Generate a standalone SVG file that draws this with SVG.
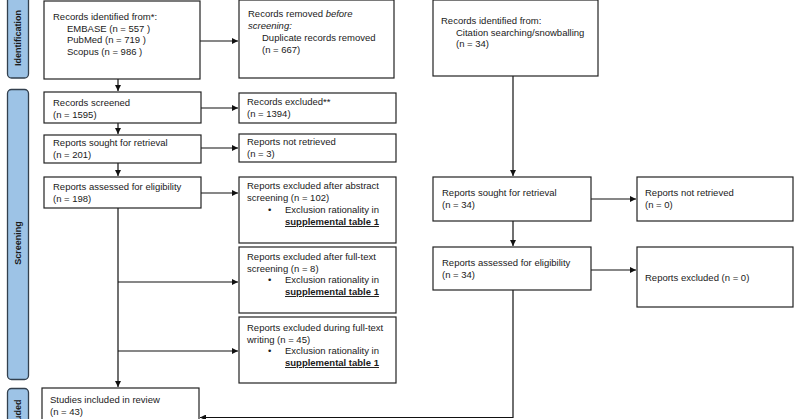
<svg xmlns="http://www.w3.org/2000/svg" width="800" height="419" viewBox="0 0 800 419">
<defs>
<marker id="ah" viewBox="0 0 10 10" refX="10" refY="5" markerWidth="6" markerHeight="6" markerUnits="userSpaceOnUse" orient="auto">
<path d="M0,0 L10,5 L0,10 z" fill="#111"/>
</marker>
<style>
.box{fill:#fff;stroke:#222;stroke-width:1.2}
.bar{fill:#9dc3e6;stroke:#33404e;stroke-width:1.3}
.t{font-family:"Liberation Sans",Arial,sans-serif;font-size:9.5px;fill:#1a1a1a}
.bt{font-family:"Liberation Sans",Arial,sans-serif;font-size:9px;font-weight:bold;fill:#1a1a1a}
.u{font-weight:bold;text-decoration:underline}
.c{fill:none;stroke:#111;stroke-width:1.2}
</style>
</defs>
<rect width="800" height="419" fill="#fff"/>

<g id="bar-identification">
<rect class="bar" x="7.5" y="-5" width="21" height="83" rx="4"/>
<text class="bt" transform="translate(21,38) rotate(-90)" text-anchor="middle">Identification</text>
</g>
<g id="bar-screening">
<rect class="bar" x="7.5" y="89.5" width="21" height="290" rx="4"/>
<text class="bt" transform="translate(21,243) rotate(-90)" text-anchor="middle">Screening</text>
</g>
<g id="bar-included">
<rect class="bar" x="7.5" y="388.5" width="21" height="60" rx="4"/>
<text class="bt" transform="translate(21,418) rotate(-90)" text-anchor="middle">Included</text>
</g>

<g id="connectors">
<path class="c" d="M118,79 V91" marker-end="url(#ah)"/>
<path class="c" d="M200,41 H238" marker-end="url(#ah)"/>
<path class="c" d="M118,123 V134" marker-end="url(#ah)"/>
<path class="c" d="M201,108 H238" marker-end="url(#ah)"/>
<path class="c" d="M118,163 V176" marker-end="url(#ah)"/>
<path class="c" d="M201,148 H238" marker-end="url(#ah)"/>
<path class="c" d="M201,193 H238" marker-end="url(#ah)"/>
<path class="c" d="M118,208 V387" marker-end="url(#ah)"/>
<path class="c" d="M118,282 H238" marker-end="url(#ah)"/>
<path class="c" d="M118,351 H238" marker-end="url(#ah)"/>
<path class="c" d="M513,76 V176" marker-end="url(#ah)"/>
<path class="c" d="M591,199 H636" marker-end="url(#ah)"/>
<path class="c" d="M513,221 V246" marker-end="url(#ah)"/>
<path class="c" d="M591,270 H636" marker-end="url(#ah)"/>
<path class="c" d="M513,290 V417.5 H200" marker-end="url(#ah)"/>
</g>

<g id="n-identified-db">
<rect class="box" x="44" y="1" width="156" height="78"/>
<text class="t" x="53" y="20">Records identified from*:</text>
<text class="t" x="67" y="31.5">EMBASE (n = 557 )</text>
<text class="t" x="67" y="43">PubMed (n = 719 )</text>
<text class="t" x="67" y="54.5">Scopus (n = 986 )</text>
</g>
<g id="n-removed">
<rect class="box" x="239" y="0" width="155" height="78"/>
<text class="t" x="248" y="17">Records removed <tspan font-style="italic">before</tspan></text>
<text class="t" x="248" y="29" font-style="italic">screening:</text>
<text class="t" x="262" y="41">Duplicate records removed</text>
<text class="t" x="262" y="53">(n = 667)</text>
</g>
<g id="n-identified-cit">
<rect class="box" x="433" y="0" width="165" height="76"/>
<text class="t" x="441" y="24">Records identified from:</text>
<text class="t" x="456" y="35.5">Citation searching/snowballing</text>
<text class="t" x="456" y="47">(n = 34)</text>
</g>

<g id="n-screened">
<rect class="box" x="44" y="92" width="157" height="31"/>
<text class="t" x="53" y="106">Records screened</text>
<text class="t" x="53" y="117.5">(n = 1595)</text>
</g>
<g id="n-excluded">
<rect class="box" x="239" y="93" width="157" height="30"/>
<text class="t" x="247" y="105">Records excluded**</text>
<text class="t" x="247" y="116.5">(n = 1394)</text>
</g>
<g id="n-sought">
<rect class="box" x="44" y="135" width="157" height="28"/>
<text class="t" x="53" y="146">Reports sought for retrieval</text>
<text class="t" x="53" y="157.5">(n = 201)</text>
</g>
<g id="n-notretrieved">
<rect class="box" x="239" y="134" width="157" height="28"/>
<text class="t" x="247" y="145">Reports not retrieved</text>
<text class="t" x="247" y="156.5">(n = 3)</text>
</g>
<g id="n-assessed">
<rect class="box" x="44" y="177" width="157" height="31"/>
<text class="t" x="53" y="190">Reports assessed for eligibility</text>
<text class="t" x="53" y="201.5">(n = 198)</text>
</g>
<g id="n-excl-abstract">
<rect class="box" x="239" y="177" width="157" height="66"/>
<text class="t" x="247" y="189">Reports excluded after abstract</text>
<text class="t" x="247" y="201">screening (n = 102)</text>
<text class="t" x="268" y="213">•</text>
<text class="t" x="285" y="213">Exclusion rationality in</text>
<text class="t u" x="285" y="225">supplemental table 1</text>
</g>
<g id="n-excl-fulltext">
<rect class="box" x="239" y="247" width="157" height="66"/>
<text class="t" x="247" y="260">Reports excluded after full-text</text>
<text class="t" x="247" y="272">screening (n = 8)</text>
<text class="t" x="268" y="283">•</text>
<text class="t" x="285" y="283">Exclusion rationality in</text>
<text class="t u" x="285" y="295">supplemental table 1</text>
</g>
<g id="n-excl-writing">
<rect class="box" x="239" y="317" width="157" height="66"/>
<text class="t" x="247" y="331">Reports excluded during full-text</text>
<text class="t" x="247" y="343">writing (n = 45)</text>
<text class="t" x="268" y="354">•</text>
<text class="t" x="285" y="354">Exclusion rationality in</text>
<text class="t u" x="285" y="366">supplemental table 1</text>
</g>

<g id="n-sought-cit">
<rect class="box" x="433" y="177" width="158" height="44"/>
<text class="t" x="442" y="196">Reports sought for retrieval</text>
<text class="t" x="442" y="207.5">(n = 34)</text>
</g>
<g id="n-notretrieved-cit">
<rect class="box" x="637" y="177" width="156" height="44"/>
<text class="t" x="645" y="196">Reports not retrieved</text>
<text class="t" x="645" y="207.5">(n = 0)</text>
</g>
<g id="n-assessed-cit">
<rect class="box" x="433" y="247" width="158" height="43"/>
<text class="t" x="442" y="266">Reports assessed for eligibility</text>
<text class="t" x="442" y="277.5">(n = 34)</text>
</g>
<g id="n-excluded-cit">
<rect class="box" x="637" y="247" width="156" height="60"/>
<text class="t" x="645" y="281">Reports excluded (n = 0)</text>
</g>

<g id="n-included">
<rect class="box" x="42" y="388" width="157" height="60"/>
<text class="t" x="50" y="403">Studies included in review</text>
<text class="t" x="50" y="415">(n = 43)</text>
</g>
</svg>
